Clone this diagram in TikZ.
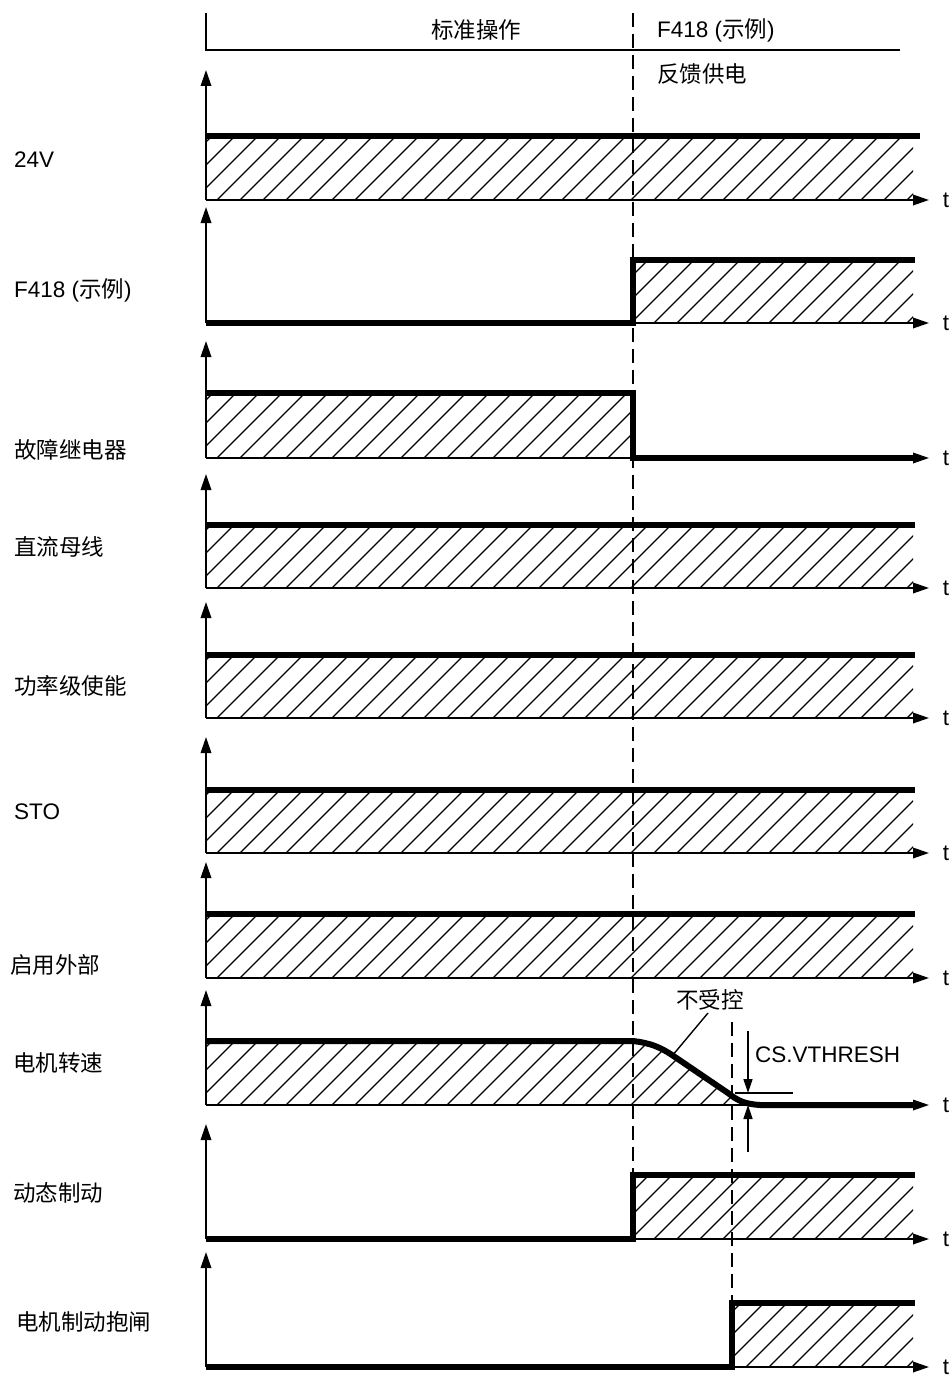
\documentclass[tikz,border=0pt]{standalone}
\usepackage{fontspec}
\setmainfont{Liberation Sans}
\newfontfamily\cjk{Noto Sans CJK SC}
\usetikzlibrary{arrows.meta}
\tikzset{
  axisline/.style={line width=1.8pt, -{Triangle[length=16pt,width=10.5pt]}},
  sig/.style={line width=6pt, line join=miter, line cap=butt},
  hatchl/.style={line width=1.3pt},
  dashline/.style={line width=1.4pt, dash pattern=on 14pt off 7pt},
  thin/.style={line width=1.4pt},
  lbl/.style={anchor=west, inner sep=0pt, font=\fontsize{22.5}{26}\selectfont},
  tlbl/.style={inner sep=0pt, font=\fontsize{22.5}{26}\selectfont},
}
\newcommand\hatchbox[4]{% x1, x2, top, bot
  \begin{scope}
    \clip (#1,#3) rectangle (#2,#4);
    \foreach \k in {-4,...,32} {\draw[hatchl] ({217+23*\k}, #4) -- ++(90,-90);}
  \end{scope}}
\newcommand\myaxes[3]{% base, tip, name
  \coordinate (o#3) at (206,#1);
  \coordinate (a#3) at (206,#2);
  \coordinate (e#3) at (929,#1);
  \draw[axisline] (o#3) -- (a#3);
  \draw[axisline] (o#3) -- (e#3);
  \node[tlbl] (t#3) at (946,#1) {t};}
\begin{document}
\begin{tikzpicture}[x=1pt,y=-1pt]
\useasboundingbox (0,0) rectangle (952,1378);
\fill[white] (0,0) rectangle (952,1378);

% header
\coordinate (h0) at (206,13);
\coordinate (h1) at (206,50);
\coordinate (h2) at (900,50);
\draw[thin] (h0) -- (h1) -- (h2);
\node[tlbl] (hd1) at (476,30) {\cjk 标准操作};
\node[lbl] (hd2) at (657,30) {F418 ({\cjk 示例})};
\node[lbl] (hd3) at (657,74) {\cjk 反馈供电};
\coordinate (d1a) at (633,13);
\coordinate (d1b) at (633,1240);
\draw[dashline] (d1a) -- (d1b);
\coordinate (d2a) at (732,1022);
\coordinate (d2b) at (732,1300);
\draw[dashline] (d2a) -- (d2b);

% labels
\node[lbl] (l1) at (14,160) {24V};
\node[lbl] (l2) at (14,290) {F418 ({\cjk 示例})};
\node[lbl] (l3) at (14,450) {\cjk 故障继电器};
\node[lbl] (l4) at (14,547) {\cjk 直流母线};
\node[lbl] (l5) at (14,686) {\cjk 功率级使能};
\node[lbl] (l6) at (14,812) {STO};
\node[lbl] (l7) at (10,965) {\cjk 启用外部};
\node[lbl] (l8) at (13,1063) {\cjk 电机转速};
\node[lbl] (l9) at (13,1193) {\cjk 动态制动};
\node[lbl] (l10) at (16,1322) {\cjk 电机制动抱闸};

% row 1: 24V
\hatchbox{206}{913}{136}{200}
\myaxes{200}{70}{1}
\draw[sig] (206,136) -- (920,136);

% row 2: F418
\hatchbox{633}{913}{260}{323}
\myaxes{323}{207}{2}
\draw[sig] (206,323) -- (633,323) -- (633,260) -- (915,260);

% row 3: fault relay
\hatchbox{206}{633}{393}{458}
\myaxes{458}{341}{3}
\draw[sig] (206,393) -- (633,393) -- (633,458) -- (915,458);

% row 4: DC bus
\hatchbox{206}{913}{525}{588}
\myaxes{588}{474}{4}
\draw[sig] (206,525) -- (915,525);

% row 5: power stage enable
\hatchbox{206}{913}{655}{718}
\myaxes{718}{602}{5}
\draw[sig] (206,655) -- (915,655);

% row 6: STO
\hatchbox{206}{913}{790}{853}
\myaxes{853}{737}{6}
\draw[sig] (206,790) -- (915,790);

% row 7: enable external
\hatchbox{206}{913}{914}{978}
\myaxes{978}{862}{7}
\draw[sig] (206,914) -- (915,914);

% row 8: motor speed
\begin{scope}
  \clip (206,1041) -- (633,1041) .. controls (650,1043) and (660,1047) .. (672,1055)
        -- (728,1093) .. controls (738,1101) and (745,1104) .. (760,1105) -- (206,1105) -- cycle;
  \foreach \k in {-4,...,32} {\draw[hatchl] ({217+23*\k}, 1105) -- ++(90,-90);}
\end{scope}
\myaxes{1105}{990}{8}
\draw[sig, line join=round] (206,1041) -- (633,1041) .. controls (650,1043) and (660,1047) .. (672,1055)
      -- (728,1093) .. controls (738,1101) and (745,1104) .. (760,1105) -- (913,1105);
\node[tlbl] (unc) at (710,1000) {\cjk 不受控};
\coordinate (uncA) at (708,1013);
\coordinate (uncB) at (672,1056);
\draw[thin] (uncA) -- (uncB);
\coordinate (thA) at (735,1093);
\coordinate (thB) at (793,1093);
\draw[thin] (thA) -- (thB);
\coordinate (ca1) at (748,1031);
\coordinate (ca2) at (748,1093);
\coordinate (cb1) at (748,1152);
\coordinate (cb2) at (748,1105);
\draw[thin, -{Triangle[length=14pt,width=9pt]}] (ca1) -- (ca2);
\draw[thin, -{Triangle[length=14pt,width=9pt]}] (cb1) -- (cb2);
\node[lbl] (cs) at (755,1055) {CS.VTHRESH};

% row 9: dynamic brake
\hatchbox{633}{913}{1175}{1239}
\myaxes{1239}{1124}{9}
\draw[sig] (206,1239) -- (633,1239) -- (633,1175) -- (915,1175);

% row 10: motor holding brake
\hatchbox{732}{913}{1303}{1367}
\myaxes{1367}{1252}{10}
\draw[sig] (206,1367) -- (732,1367) -- (732,1303) -- (915,1303);
\end{tikzpicture}
\end{document}
